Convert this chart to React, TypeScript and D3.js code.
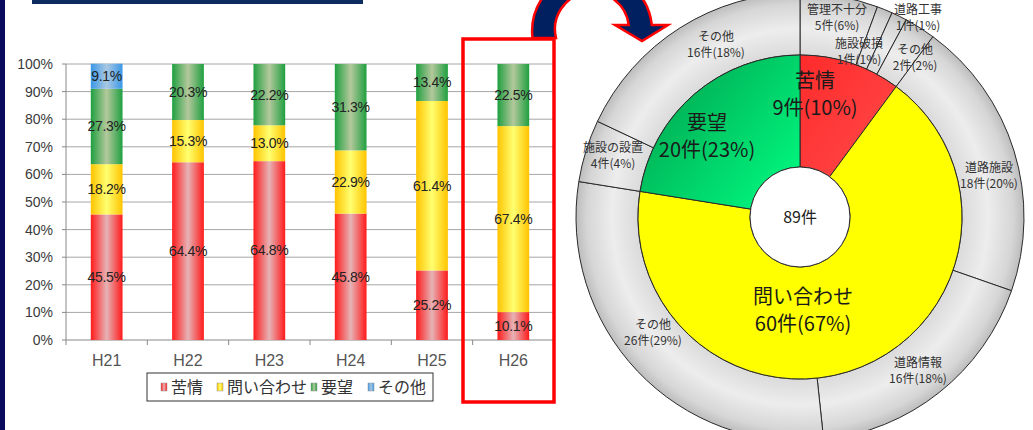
import React from 'react';
import * as d3 from 'd3';

// bar chart data (percent)
const years = ['H21', 'H22', 'H23', 'H24', 'H25', 'H26'];
const seriesNames = ['苦情', '問い合わせ', '要望', 'その他'];
const kujo = [45.5, 64.4, 64.8, 45.8, 25.2, 10.1];
const toiawase = [18.2, 15.3, 13.0, 22.9, 61.4, 67.4];
const yobo = [27.3, 20.3, 22.2, 31.3, 13.4, 22.5];
const sonota = [9.1, 0, 0, 0, 0, 0];
const yTicks = [0, 10, 20, 30, 40, 50, 60, 70, 80, 90, 100];

// H26 breakdown (counts)
const innerNames = ['苦情', '問い合わせ', '要望'];
const innerCounts = [9, 60, 20];
const innerPct = [10, 67, 23];
const outerNames = ['管理不十分', '施設破損', '道路工事', 'その他', '道路施設', '道路情報', 'その他', '施設の設置', 'その他'];
const outerCounts = [5, 1, 1, 2, 18, 16, 26, 4, 16];
const outerPct = [6, 1, 1, 2, 20, 18, 29, 4, 18];
const totalLabel = '89件';

const W = 1033;
const H = 430;
const JP = "'Noto Sans CJK JP', sans-serif";
const LAT = "'Liberation Sans', Arial, sans-serif";

const barGrad = [
  { id: 'g-red', edge: '#ff1a1a', mid: '#e6b3b6' },
  { id: 'g-yel', edge: '#ffc400', mid: '#ffff70' },
  { id: 'g-grn', edge: '#1fa040', mid: '#b4c89c' },
  { id: 'g-blu', edge: '#3a98e6', mid: '#aac8e2' },
];

// label anchors for the donut, relative to its centre
const innerLabelAt = [[15, -123], [3, 93], [-93, -81]];
const outerLabelAt = [[37, -199], [59, -165], [118, -199], [115, -159], [189, -41], [118, 154], [-147, 116], [-187, -61], [-84, -172]];

const App = () => {
  // ---- bar chart ----
  const plot = { left: 66, right: 554, top: 64, bottom: 340 };
  const x = d3.scaleBand().domain(years).range([plot.left, plot.right]).padding(0);
  const y = d3.scaleLinear().domain([0, 100]).range([plot.bottom, plot.top]);
  const barW = x.bandwidth() * 0.39;

  const rows = years.map((yr, i) => ({
    year: yr,
    苦情: kujo[i],
    問い合わせ: toiawase[i],
    要望: yobo[i],
    その他: sonota[i],
  }));
  const stacked = d3.stack().keys(seriesNames)(rows as any);

  // ---- donut ----
  const cx = 800;
  const cy = 217;
  const rHole = 50;
  const rMid = 162;
  const rOut = 224;
  const pie = d3.pie<number>().sort(null).value(d => d);
  const innerArcs = pie(innerCounts);
  const outerArcs = pie(outerCounts);
  const arcIn = d3.arc<any>().innerRadius(rHole).outerRadius(rMid);
  const arcOut = d3.arc<any>().innerRadius(rMid).outerRadius(rOut);
  const innerFill = ['url(#p-red)', '#ffff00', 'url(#p-grn)'];

  return (
    <div style={{ position: 'fixed', left: 0, top: 0 }}>
      <svg width={W} height={H} style={{ display: 'block', background: '#fff' }}>
        <defs>
          {barGrad.map(g => (
            <linearGradient key={g.id} id={g.id} x1="0" y1="0" x2="1" y2="0">
              <stop offset="0" stopColor={g.edge} />
              <stop offset="0.5" stopColor={g.mid} />
              <stop offset="1" stopColor={g.edge} />
            </linearGradient>
          ))}
          <linearGradient id="p-grn" x1="0" y1="0.2" x2="1" y2="1">
            <stop offset="0" stopColor="#00a54e" />
            <stop offset="1" stopColor="#00ff84" />
          </linearGradient>
          <linearGradient id="p-red" x1="0" y1="0" x2="1" y2="1">
            <stop offset="0" stopColor="#ff2b2b" />
            <stop offset="1" stopColor="#ff4a4a" />
          </linearGradient>
          <radialGradient id="p-gray" gradientUnits="userSpaceOnUse" cx={0} cy={0} r={rOut}>
            <stop offset="0.72" stopColor="#dadada" />
            <stop offset="0.84" stopColor="#ededed" />
            <stop offset="0.95" stopColor="#d6d6d6" />
            <stop offset="1" stopColor="#bdbdbd" />
          </radialGradient>
        </defs>

        {/* frame decorations */}
        <rect x={0} y={0} width={5} height={H} fill="#0b0b5e" />
        <rect x={32} y={0} width={331} height={4} fill="#0c2c60" />

        {/* grid */}
        {yTicks.map(t => (
          <g key={t}>
            <line x1={plot.left} x2={plot.right} y1={y(t)} y2={y(t)} stroke={t === 0 ? '#888' : '#a6a6a6'} strokeWidth={1} />
            <line x1={plot.left - 4} x2={plot.left} y1={y(t)} y2={y(t)} stroke="#888" />
            <text x={53} y={y(t)} dy="0.35em" textAnchor="end" fontFamily={LAT} fontSize={14} fill="#3a3a3a">
              {t}%
            </text>
          </g>
        ))}
        <line x1={plot.left} x2={plot.left} y1={plot.top} y2={plot.bottom} stroke="#888" />
        {d3.range(years.length + 1).map(i => {
          const xx = plot.left + i * x.step();
          return <line key={i} x1={xx} x2={xx} y1={plot.bottom} y2={plot.bottom + 5} stroke="#888" />;
        })}

        {/* bars */}
        {stacked.map((layer, si) => (
          <g key={layer.key} fill={`url(#${barGrad[si].id})`}>
            {layer.map((d, i) => {
              const v = d[1] - d[0];
              if (v <= 0) return null;
              const bx = (x(years[i]) as number) + x.bandwidth() / 2 - barW / 2;
              return <rect key={i} x={bx} y={y(d[1])} width={barW} height={y(d[0]) - y(d[1])} />;
            })}
          </g>
        ))}
        {stacked.map(layer =>
          layer.map((d, i) => {
            const v = d[1] - d[0];
            if (v <= 0) return null;
            return (
              <text
                key={layer.key + i}
                x={(x(years[i]) as number) + x.bandwidth() / 2}
                y={y((d[0] + d[1]) / 2)}
                dy="0.35em"
                textAnchor="middle"
                fontFamily={LAT}
                fontSize={14}
                letterSpacing={-0.3}
                fill="#222"
              >
                {v.toFixed(1)}%
              </text>
            );
          })
        )}
        {years.map(yr => (
          <text key={yr} x={(x(yr) as number) + x.bandwidth() / 2} y={360} dy="0.35em" textAnchor="middle" fontFamily={LAT} fontSize={16} fill="#555">
            {yr}
          </text>
        ))}

        {/* legend */}
        <rect x={147} y={373} width={286} height={28} fill="#fff" stroke="#333" strokeWidth={1} />
        {seriesNames.map((s, i) => {
          const mx = [161, 217, 311, 368][i];
          return (
            <g key={s}>
              <rect x={mx} y={383} width={6} height={8} fill={`url(#${barGrad[i].id})`} stroke="#999" strokeWidth={0.5} />
              <text x={mx + 10} y={387} dy="0.35em" fontFamily={JP} fontSize={16} fill="#333">
                {s}
              </text>
            </g>
          );
        })}

        {/* highlight box */}
        <rect x={463} y={39} width={91} height={363} fill="none" stroke="#ff0000" strokeWidth={3.5} />

        {/* arrow */}
        <path
          d="M532.5,38 A60,60 0 1 1 651.8,25 L668,25 L642,41 L615,25 L628.7,25 A37,37 0 1 0 556,38 Z"
          fill="#002060"
          stroke="#ff0000"
          strokeWidth={2.5}
          strokeLinejoin="miter"
        />

        {/* donut */}
        <g transform={`translate(${cx},${cy})`}>
          {outerArcs.map((a, i) => (
            <path key={'o' + i} d={arcOut(a) as string} fill="url(#p-gray)" stroke="#2a2a2a" strokeWidth={1} />
          ))}
          {innerArcs.map((a, i) => (
            <path key={'i' + i} d={arcIn(a) as string} fill={innerFill[i]} stroke="#2a2a2a" strokeWidth={1} />
          ))}
          <circle r={rHole} fill="#fff" stroke="#2a2a2a" strokeWidth={1} />
          <text y={0} dy="0.35em" textAnchor="middle" fontFamily={JP} fontSize={16} fill="#222">
            {totalLabel}
          </text>
          {innerNames.map((n, i) => (
            <text key={n} x={innerLabelAt[i][0]} y={innerLabelAt[i][1]} textAnchor="middle" fontFamily={JP} fontSize={20} fill="#1a1a1a">
              <tspan x={innerLabelAt[i][0]} dy="-0.3em">{n}</tspan>
              <tspan x={innerLabelAt[i][0]} dy="1.35em">{`${innerCounts[i]}件(${innerPct[i]}%)`}</tspan>
            </text>
          ))}
          {outerNames.map((n, i) => (
            <text key={'ol' + i} x={outerLabelAt[i][0]} y={outerLabelAt[i][1]} textAnchor="middle" fontFamily={JP} fontSize={12} fill="#333">
              <tspan x={outerLabelAt[i][0]} dy="-0.35em">{n}</tspan>
              <tspan x={outerLabelAt[i][0]} dy="1.35em">{`${outerCounts[i]}件(${outerPct[i]}%)`}</tspan>
            </text>
          ))}
        </g>
      </svg>
    </div>
  );
};

export default App;
